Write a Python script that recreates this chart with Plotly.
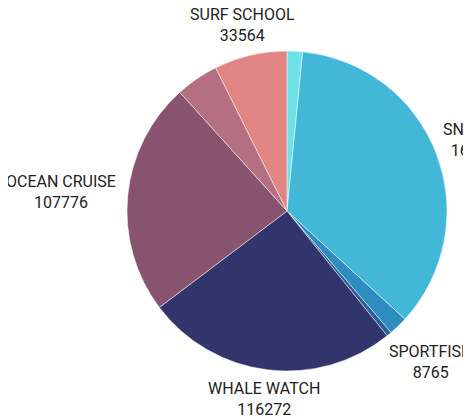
import numpy as np
import plotly.graph_objects as go

# slices, clockwise from 12 o'clock
labels = ["TIDEPOOL", "SNORKEL", "SPORTFISH", "KAYAK", "WHALE WATCH",
          "OCEAN CRUISE", "SUNSET SAIL", "SURF SCHOOL"]
values = [7150, 160900, 8765, 2300, 116272, 107776, 19800, 33564]
shown = [False, True, True, False, True, True, False, True]
colors = ["#6FE2E8", "#42B7D7", "#2E8DBF", "#2B5E9A", "#31356C",
          "#87536F", "#B46F81", "#E08484"]

W, H = 471, 416
PIE = 320          # square plot area in px -> radius 160
ML, MT = 119, 43
FONT = 16

fig = go.Figure(go.Pie(
    labels=labels,
    values=values,
    textinfo="none",
    sort=False,
    direction="clockwise",
    rotation=0,
    marker=dict(colors=colors, line=dict(color="white", width=0.5)),
    showlegend=False,
    hoverinfo="label+value+percent",
))

# outside labels, pushed radially so the text box clears the rim
vals = np.array(values, dtype=float)
ends = np.cumsum(vals) / vals.sum() * 2 * np.pi
mids = ends - vals / vals.sum() * np.pi
for lab, val, ok, th in zip(labels, values, shown, mids):
    if not ok:
        continue
    s, c = np.sin(th), np.cos(th)
    hw = len(lab) * 0.6 * FONT / 2
    hh = 13
    d = 168 + abs(s) * hw + abs(c) * hh
    fig.add_annotation(
        x=0.5 + s * d / PIE, y=0.5 + c * d / PIE,
        xref="paper", yref="paper",
        text=f"{lab}<br>{val}",
        showarrow=False, xanchor="center", yanchor="middle", yshift=-2,
        font=dict(family="Roboto, sans-serif", size=FONT, color="#222222"),
    )

fig.update_layout(
    width=W,
    height=H,
    margin=dict(l=ML, r=W - ML - PIE, t=MT, b=H - MT - PIE, autoexpand=False),
    paper_bgcolor="white",
    plot_bgcolor="white",
)

fig.write_html("out.html")
